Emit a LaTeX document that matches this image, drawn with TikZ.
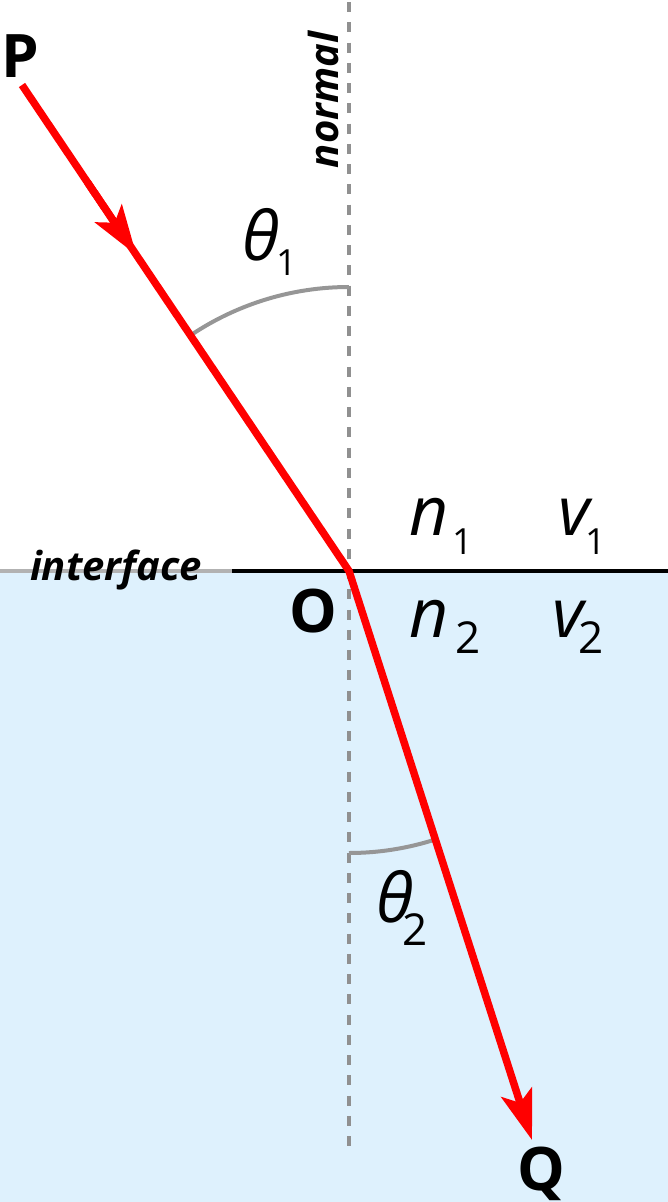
\documentclass[tikz,border=0pt]{standalone}
\usepackage{fontspec}
\setmainfont{Open Sans}
\usetikzlibrary{arrows.meta,calc}
\definecolor{water}{RGB}{222,241,253}
\definecolor{normalgray}{RGB}{144,144,144}
\definecolor{arcgray}{RGB}{150,150,150}
\definecolor{ifacegray}{RGB}{178,178,178}
\definecolor{rayred}{RGB}{255,0,0}
% #1 main letter, #2 subscript, #3 subscript size, #4 subscript centre right of the letter's centre, #5 drop below baseline
\newcommand\subsym[5]{\setbox0\hbox{#1}\copy0\rlap{\kern\dimexpr #4-0.5\wd0\relax\makebox[0pt]{\raisebox{-#5}{\upshape\fontsize{#3}{#3}\selectfont #2}}}}
\tikzset{
  raypath/.style={draw=rayred, line width=7.5pt, line join=miter},
  raytip/.style={-{Stealth[length=50pt,width=32pt,inset=11pt]}},
  anglearc/.style={draw=arcgray, line width=4pt},
  mainlab/.style={font=\fontsize{68}{68}\selectfont\itshape, inner sep=0pt, anchor=base},
  pointlab/.style={font=\fontsize{60}{60}\selectfont\bfseries, inner sep=0pt, anchor=base},
  wordlab/.style={font=\fontsize{40}{40}\selectfont\bfseries\itshape, inner sep=0pt, anchor=base},
}
\begin{document}
\begin{tikzpicture}[x=1pt,y=-1pt]
\useasboundingbox (0,0) rectangle (668,1202);
% lower medium
\fill[water] (0,571) rectangle (668,1202);
% key points
\coordinate (pP) at (22,85);
\coordinate (pO) at (349,571);
\coordinate (pQ) at (532,1140);
\coordinate (pM) at ($(pP)!0.35!(pO)$);
\coordinate (pMb) at ($(pP)!0.2!(pO)$);
\coordinate (nTop) at (349,2);
\coordinate (nBot) at (349,1146);
\coordinate (iL) at (0,571);
\coordinate (iM) at (232,571);
\coordinate (iR) at (668,571);
% normal
\draw[normalgray, line width=4pt, dash pattern=on 10pt off 10.25pt] (nTop) -- (nBot);
% interface
\draw[ifacegray, line width=4pt] (iL) -- (iM);
\draw[black, line width=4pt] (iM) -- (iR);
% angle arcs
\draw[anglearc] ($(pO)+(0,-284)$) arc[start angle=-90, end angle=-123.93, radius=284];
\draw[anglearc] ($(pO)+(0,282)$) arc[start angle=90, end angle=72.17, radius=282];
% rays
\draw[raypath, raytip] (pP) -- (pO) -- (pQ);
\draw[raypath, raytip] (pMb) -- (pM);
% labels
\node[pointlab] (P) at (20,77) {P};
\node[pointlab] (O) at (313,632) {O};
\node[pointlab] (Q) at (541,1190) {Q};
\node[wordlab] (iface) at (116,580) {interface};
\node[wordlab, rotate=90] (norm) at (338,100) {normal};
\node[mainlab] (th1) at (261,260) {\subsym{θ}{1}{36}{25.5pt}{15pt}};
\node[mainlab] (th2) at (395.5,922) {\subsym{θ}{2}{44}{19.5pt}{23pt}};
\node[mainlab] (n1) at (429,535) {\subsym{n}{1}{36}{33.5pt}{19pt}};
\node[mainlab] (v1) at (574,535) {\subsym{v}{1}{36}{21.5pt}{19pt}};
\node[mainlab] (n2) at (429,637) {\subsym{n}{2}{44}{39.5pt}{16pt}};
\node[mainlab] (v2) at (568.5,637) {\subsym{v}{2}{44}{22.5pt}{16pt}};
\end{tikzpicture}
\end{document}
